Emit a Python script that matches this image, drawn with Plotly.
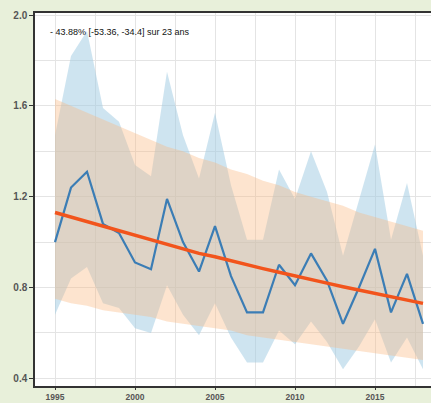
import plotly.graph_objects as go

# Annual index, 1995-2018
years = list(range(1995, 2019))
index_values = [1.00, 1.24, 1.31, 1.08, 1.04, 0.91, 0.88, 1.19, 1.00, 0.87, 1.07, 0.85,
                0.69, 0.69, 0.90, 0.81, 0.95, 0.83, 0.64, 0.80, 0.97, 0.69, 0.86, 0.64]
# Per-year confidence interval of the index
index_upper = [1.47, 1.82, 1.93, 1.59, 1.53, 1.34, 1.29, 1.75, 1.47, 1.28, 1.57, 1.25,
               1.01, 1.01, 1.32, 1.19, 1.40, 1.22, 0.94, 1.18, 1.43, 1.01, 1.26, 0.94]
index_lower = [0.68, 0.84, 0.89, 0.73, 0.71, 0.62, 0.60, 0.81, 0.68, 0.59, 0.73, 0.58,
               0.47, 0.47, 0.61, 0.55, 0.65, 0.56, 0.44, 0.54, 0.66, 0.47, 0.58, 0.44]
# Fitted trend and its confidence band
trend = [1.13, 1.11, 1.09, 1.07, 1.05, 1.03, 1.01, 0.99, 0.97, 0.95, 0.935, 0.917,
         0.90, 0.883, 0.867, 0.85, 0.834, 0.819, 0.803, 0.788, 0.773, 0.759, 0.744, 0.73]
trend_upper = [1.63, 1.60, 1.57, 1.54, 1.51, 1.48, 1.45, 1.42, 1.40, 1.37, 1.35, 1.32,
               1.30, 1.27, 1.25, 1.22, 1.20, 1.18, 1.16, 1.13, 1.11, 1.09, 1.07, 1.05]
trend_lower = [0.75, 0.73, 0.72, 0.70, 0.69, 0.68, 0.67, 0.65, 0.64, 0.63, 0.62, 0.61,
               0.59, 0.58, 0.57, 0.56, 0.55, 0.54, 0.53, 0.52, 0.51, 0.50, 0.49, 0.48]

summary_text = "- 43.88% [-53.36, -34.4] sur 23 ans"

fig = go.Figure()

# Index confidence band
fig.add_trace(go.Scatter(x=years, y=index_upper, mode="lines", line=dict(width=0),
                         hoverinfo="skip", showlegend=False))
fig.add_trace(go.Scatter(x=years, y=index_lower, mode="lines", line=dict(width=0),
                         fill="tonexty", fillcolor="rgba(158,202,225,0.5)",
                         hoverinfo="skip", showlegend=False))
# Trend confidence band
fig.add_trace(go.Scatter(x=years, y=trend_upper, mode="lines", line=dict(width=0),
                         hoverinfo="skip", showlegend=False))
fig.add_trace(go.Scatter(x=years, y=trend_lower, mode="lines", line=dict(width=0),
                         fill="tonexty", fillcolor="rgba(250,185,130,0.38)",
                         hoverinfo="skip", showlegend=False))
# Index line
fig.add_trace(go.Scatter(x=years, y=index_values, mode="lines",
                         line=dict(color="#3b7db5", width=2.2), showlegend=False))
# Trend line
fig.add_trace(go.Scatter(x=years, y=trend, mode="lines",
                         line=dict(color="#f2541c", width=3.5), showlegend=False))

fig.add_annotation(text=summary_text, xref="paper", yref="paper", x=0.033, y=0.948,
                   xanchor="left", yanchor="middle", showarrow=False,
                   font=dict(family="Liberation Sans", size=9, color="#111111"))

y_font = dict(family="Liberation Sans", size=10, color="#555555", weight="bold")
x_font = dict(family="Liberation Sans", size=8.5, color="#555555", weight="bold")
fig.update_xaxes(range=[1993.75, 2018.5], tickmode="linear", tick0=1995, dtick=5,
                 automargin=False,
                 showgrid=True, gridcolor="#e4e4e4", gridwidth=1,
                 minor=dict(dtick=2.5, showgrid=True, gridcolor="#e4e4e4"),
                 showline=True, linecolor="#333333", linewidth=1.5, mirror=True,
                 ticks="outside", ticklen=2, tickcolor="#333333",
                 tickfont=x_font, zeroline=False)
fig.update_yaxes(range=[0.366, 2.009], tickmode="linear", tick0=0.4, dtick=0.4,
                 tickformat=".1f", automargin=False,
                 showgrid=True, gridcolor="#e4e4e4", gridwidth=1,
                 minor=dict(dtick=0.2, showgrid=True, gridcolor="#e4e4e4"),
                 showline=True, linecolor="#333333", linewidth=1.5,
                 ticks="outside", ticklen=4, tickcolor="#333333",
                 tickfont=y_font, zeroline=False)

fig.update_layout(width=431, height=403,
                  margin=dict(l=35, r=0, t=13, b=17),
                  paper_bgcolor="#e8f0da", plot_bgcolor="#ffffff")

fig.write_html("out.html")
